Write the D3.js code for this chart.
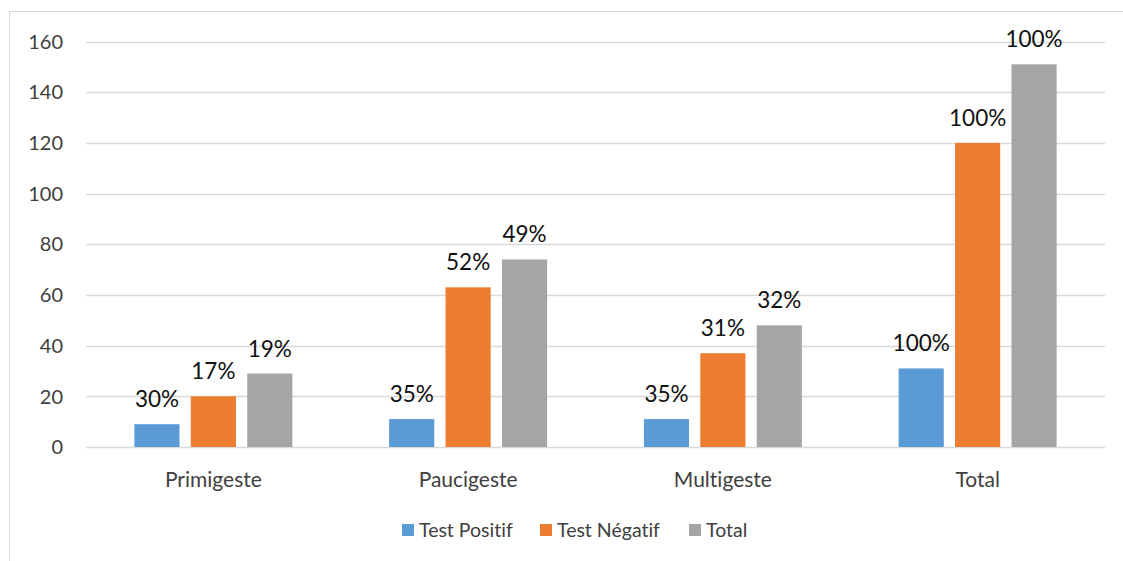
<!DOCTYPE html>
<html>
<head>
<meta charset="utf-8">
<script src="https://cdn.jsdelivr.net/npm/d3@7"></script>
<style>
  body { margin: 0; background: #fff; }
  svg { font-family: Lato, "Liberation Sans", sans-serif; font-variant-ligatures: none; }
</style>
</head>
<body>
<svg width="1123" height="561"></svg>
<script>
var categories = ["Primigeste", "Paucigeste", "Multigeste", "Total"];
var seriesNames = ["Test Positif", "Test Négatif", "Total"];
var positif = [9, 11, 11, 31];
var negatif = [20, 63, 37, 120];
var total = [29, 74, 48, 151];
var positifLabels = ["30%", "35%", "35%", "100%"];
var negatifLabels = ["17%", "52%", "31%", "100%"];
var totalLabels = ["19%", "49%", "32%", "100%"];
var yTicks = [0, 20, 40, 60, 80, 100, 120, 140, 160];
var colors = ["#5B9BD5", "#ED7D31", "#A5A5A5"];

var svg = d3.select("svg");

// chart frame
svg.append("rect")
    .attr("x", 9.5).attr("y", 11.5)
    .attr("width", 1130).attr("height", 570)
    .attr("fill", "none")
    .attr("stroke", "#d9d9d9");

var x = d3.scaleBand().domain(categories).range([86, 1105]).padding(0);
var groupW = 158;
var xs = d3.scaleBand().domain(seriesNames).range([0, groupW]).paddingInner(0.2).paddingOuter(0);
var y = d3.scaleLinear().domain([0, 160]).range([447, 41.5]);

// gridlines
svg.append("g").selectAll("line")
    .data(yTicks).enter().append("line")
    .attr("x1", 86).attr("x2", 1105)
    .attr("y1", function(d) { return Math.round(y(d)) + 0.5; })
    .attr("y2", function(d) { return Math.round(y(d)) + 0.5; })
    .attr("stroke", "#d9d9d9")
    .attr("stroke-width", 1.3);

// y axis labels
svg.append("g").selectAll("text")
    .data(yTicks).enter().append("text")
    .attr("x", 63)
    .attr("y", function(d) { return y(d); })
    .attr("dy", "0.36em")
    .attr("text-anchor", "end")
    .attr("font-size", 20)
    .attr("fill", "#404040")
    .text(function(d) { return d; });

// bars
var rows = categories.map(function(c, i) {
    return [
        { cat: c, s: seriesNames[0], v: positif[i], label: positifLabels[i], color: colors[0] },
        { cat: c, s: seriesNames[1], v: negatif[i], label: negatifLabels[i], color: colors[1] },
        { cat: c, s: seriesNames[2], v: total[i], label: totalLabels[i], color: colors[2] }
    ];
});
var flat = [].concat.apply([], rows);
var off = (x.bandwidth() - groupW) / 2;

svg.append("g").selectAll("rect")
    .data(flat).enter().append("rect")
    .attr("x", function(d) { return x(d.cat) + off + xs(d.s); })
    .attr("y", function(d) { return y(d.v); })
    .attr("width", xs.bandwidth())
    .attr("height", function(d) { return y(0) - y(d.v); })
    .attr("fill", function(d) { return d.color; });

// data labels
svg.append("g").selectAll("text")
    .data(flat).enter().append("text")
    .attr("x", function(d) { return x(d.cat) + off + xs(d.s) + xs.bandwidth() / 2; })
    .attr("y", function(d) { return y(d.v) - 17; })
    .attr("text-anchor", "middle")
    .attr("font-size", 22.5)
    .attr("fill", "#111")
    .text(function(d) { return d.label; });

// category labels
svg.append("g").selectAll("text")
    .data(categories).enter().append("text")
    .attr("x", function(d) { return x(d) + x.bandwidth() / 2; })
    .attr("y", 487)
    .attr("text-anchor", "middle")
    .attr("font-size", 21)
    .attr("fill", "#404040")
    .text(function(d) { return d; });

// legend
var legendX = [402, 540, 689];
var legend = svg.append("g").selectAll("g")
    .data(seriesNames).enter().append("g")
    .attr("transform", function(d, i) { return "translate(" + legendX[i] + ",524)"; });
legend.append("rect")
    .attr("width", 12).attr("height", 12)
    .attr("fill", function(d, i) { return colors[i]; });
legend.append("text")
    .attr("x", 17).attr("y", 12.5)
    .attr("font-size", 19.5)
    .attr("fill", "#404040")
    .text(function(d) { return d; });
</script>
</body>
</html>
